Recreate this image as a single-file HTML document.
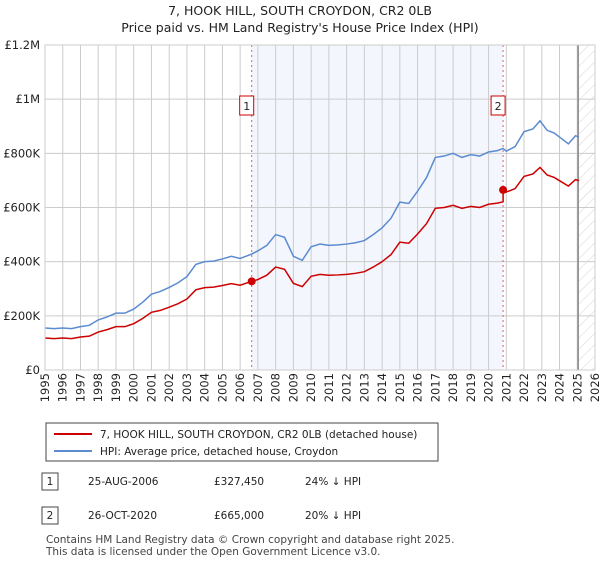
<!DOCTYPE html>
<html><head><meta charset="utf-8"><style>
body{margin:0;background:#fff;font-family:"Liberation Sans","DejaVu Sans",sans-serif;}
</style></head><body>
<svg width="600" height="560" xmlns="http://www.w3.org/2000/svg" font-family="'DejaVu Sans','Liberation Sans',sans-serif">
<defs><pattern id="hatch" width="8" height="8" patternUnits="userSpaceOnUse" patternTransform="rotate(45)"><line x1="0" y1="0" x2="0" y2="8" stroke="#d4d4d4" stroke-width="1"/></pattern></defs>
<text x="300" y="15" text-anchor="middle" font-size="12.5" fill="#222">7, HOOK HILL, SOUTH CROYDON, CR2 0LB</text>
<text x="300" y="32" text-anchor="middle" font-size="12.5" fill="#222">Price paid vs. HM Land Registry's House Price Index (HPI)</text>
<g id="plot"></g>
<g>
<rect x="46" y="423" width="392" height="38" fill="#fff" stroke="#444"/>
<line x1="54" y1="434" x2="92" y2="434" stroke="#cc0000" stroke-width="2"/>
<text x="100" y="438" font-size="10.5" fill="#222">7, HOOK HILL, SOUTH CROYDON, CR2 0LB (detached house)</text>
<line x1="54" y1="451" x2="92" y2="451" stroke="#5b8bd0" stroke-width="2"/>
<text x="100" y="455" font-size="10.5" fill="#222">HPI: Average price, detached house, Croydon</text>
</g>
<g font-size="10.5" fill="#222">
<rect x="42" y="473" width="16" height="17" fill="#fff" stroke="#444"/><text x="50" y="485" text-anchor="middle">1</text>
<text x="88" y="485">25-AUG-2006</text><text x="214" y="485">£327,450</text><text x="305" y="485">24% ↓ HPI</text>
<rect x="42" y="507" width="16" height="17" fill="#fff" stroke="#444"/><text x="50" y="519" text-anchor="middle">2</text>
<text x="88" y="519">26-OCT-2020</text><text x="214" y="519">£665,000</text><text x="305" y="519">20% ↓ HPI</text>
</g>
<text x="46" y="543" font-size="10.5" fill="#444">Contains HM Land Registry data © Crown copyright and database right 2025.</text>
<text x="46" y="555" font-size="10.5" fill="#444">This data is licensed under the Open Government Licence v3.0.</text>
</svg>
<script>
const hpiYears=[1995,1995.5,1996,1996.5,1997,1997.5,1998,1998.5,1999,1999.5,2000,2000.5,2001,2001.5,2002,2002.5,2003,2003.5,2004,2004.5,2005,2005.5,2006,2006.65,2007,2007.5,2008,2008.5,2009,2009.5,2010,2010.5,2011,2011.5,2012,2012.5,2013,2013.5,2014,2014.5,2015,2015.5,2016,2016.5,2017,2017.5,2018,2018.5,2019,2019.5,2020,2020.5,2020.82,2021,2021.5,2022,2022.5,2022.9,2023.3,2023.7,2024,2024.5,2024.9,2025.1];
const hpiValues=[155,153,155,153,160,165,185,196,210,210,225,250,280,290,305,322,345,390,400,402,410,420,412,428,440,460,500,490,420,405,455,465,460,462,465,470,478,500,525,560,620,615,660,710,785,790,800,785,795,790,805,810,818,808,825,880,890,920,885,875,860,835,865,860];
const priceYears=[1995,1995.5,1996,1996.5,1997,1997.5,1998,1998.5,1999,1999.5,2000,2000.5,2001,2001.5,2002,2002.5,2003,2003.5,2004,2004.5,2005,2005.5,2006,2006.65,2007,2007.5,2008,2008.5,2009,2009.5,2010,2010.5,2011,2011.5,2012,2012.5,2013,2013.5,2014,2014.5,2015,2015.5,2016,2016.5,2017,2017.5,2018,2018.5,2019,2019.5,2020,2020.5,2020.82,2020.82,2021,2021.5,2022,2022.5,2022.9,2023.3,2023.7,2024,2024.5,2024.9,2025.1];
const priceValues=[118,116,118,116,122,125,140,149,160,160,171,190,213,220,232,245,262,296,304,306,312,319,313,327.45,334,350,380,372,320,308,346,353,350,351,353,357,363,380,400,426,472,468,502,540,597,600,608,597,604,600,612,616,621,665,657,670,715,724,748,720,711,699,679,703,699];
const saleYears=[2006.65,2020.82];
const saleValues=[327.45,665];
const saleLabels=["1","2"];
const yTicks=[0,200,400,600,800,1000,1200];
const yTickLabels=["£0","£200K","£400K","£600K","£800K","£1M","£1.2M"];
const xTicks=[1995,1996,1997,1998,1999,2000,2001,2002,2003,2004,2005,2006,2007,2008,2009,2010,2011,2012,2013,2014,2015,2016,2017,2018,2019,2020,2021,2022,2023,2024,2025,2026];
const hatchStart=2025.05;

const L=45,R=595,T=45,B=370,NS="http://www.w3.org/2000/svg";
const x=v=>L+(v-1995)/(2026-1995)*(R-L);
const y=v=>B-v/1200*(B-T);
const g=document.getElementById('plot');
function mk(t,a,p){const e=document.createElementNS(NS,t);for(const k in a)e.setAttribute(k,a[k]);(p||g).appendChild(e);return e;}
let e=mk('rect',{x:x(saleYears[0]),y:T,width:x(saleYears[1])-x(saleYears[0]),height:B-T,fill:'#f3f6fd'});


e=mk('rect',{x:x(hatchStart),y:T,width:R-x(hatchStart),height:B-T,fill:'url(#hatch)'});


yTicks.forEach((t,i)=>{
  e=mk('line',{x1:L,x2:R,y1:y(t),y2:y(t),stroke:'#ccc'});
  
  
  e=mk('text',{x:L-5,y:y(t)+4,'text-anchor':'end','font-size':'11.5',fill:'#222'});
  e.textContent=yTickLabels[i];
  
  
});
xTicks.forEach(t=>{
  e=mk('line',{x1:x(t),x2:x(t),y1:T,y2:B,stroke:'#ccc'});
  
  
  e=mk('text',{x:0,y:0,'text-anchor':'end','font-size':'11.5',fill:'#222',transform:`translate(${x(t)+4},${B+3}) rotate(-90)`});
  e.textContent=t;
  
  
});
e=mk('line',{x1:x(hatchStart),x2:x(hatchStart),y1:T,y2:B,stroke:'#888','stroke-width':1.5});


saleYears.forEach((s,i)=>{
  e=mk('line',{x1:x(s),x2:x(s),y1:T,y2:B,stroke:'#e06060','stroke-dasharray':'2,3'});
  
  
});
e=mk('polyline',{points:hpiYears.map((v,i)=>x(v)+','+y(hpiValues[i])).join(' '),fill:'none',stroke:'#5b8bd0','stroke-width':1.5});


e=mk('polyline',{points:priceYears.map((v,i)=>x(v)+','+y(priceValues[i])).join(' '),fill:'none',stroke:'#cc0000','stroke-width':1.5});


saleYears.forEach((s,i)=>{
  e=mk('circle',{cx:x(s),cy:y(saleValues[i]),r:4,fill:'#cc0000'});
  
  
  e=mk('rect',{x:x(s)-12,y:T+51,width:14,height:19,fill:'#fff',stroke:'#cc0000'});
  
  
  e=mk('text',{x:x(s)-5,y:T+65,'text-anchor':'middle','font-size':'11',fill:'#222'});
  e.textContent=saleLabels[i];
  
  
});
e=mk('rect',{x:L,y:T,width:R-L,height:B-T,fill:'none',stroke:'#ccc'});


</script>
</body></html>
